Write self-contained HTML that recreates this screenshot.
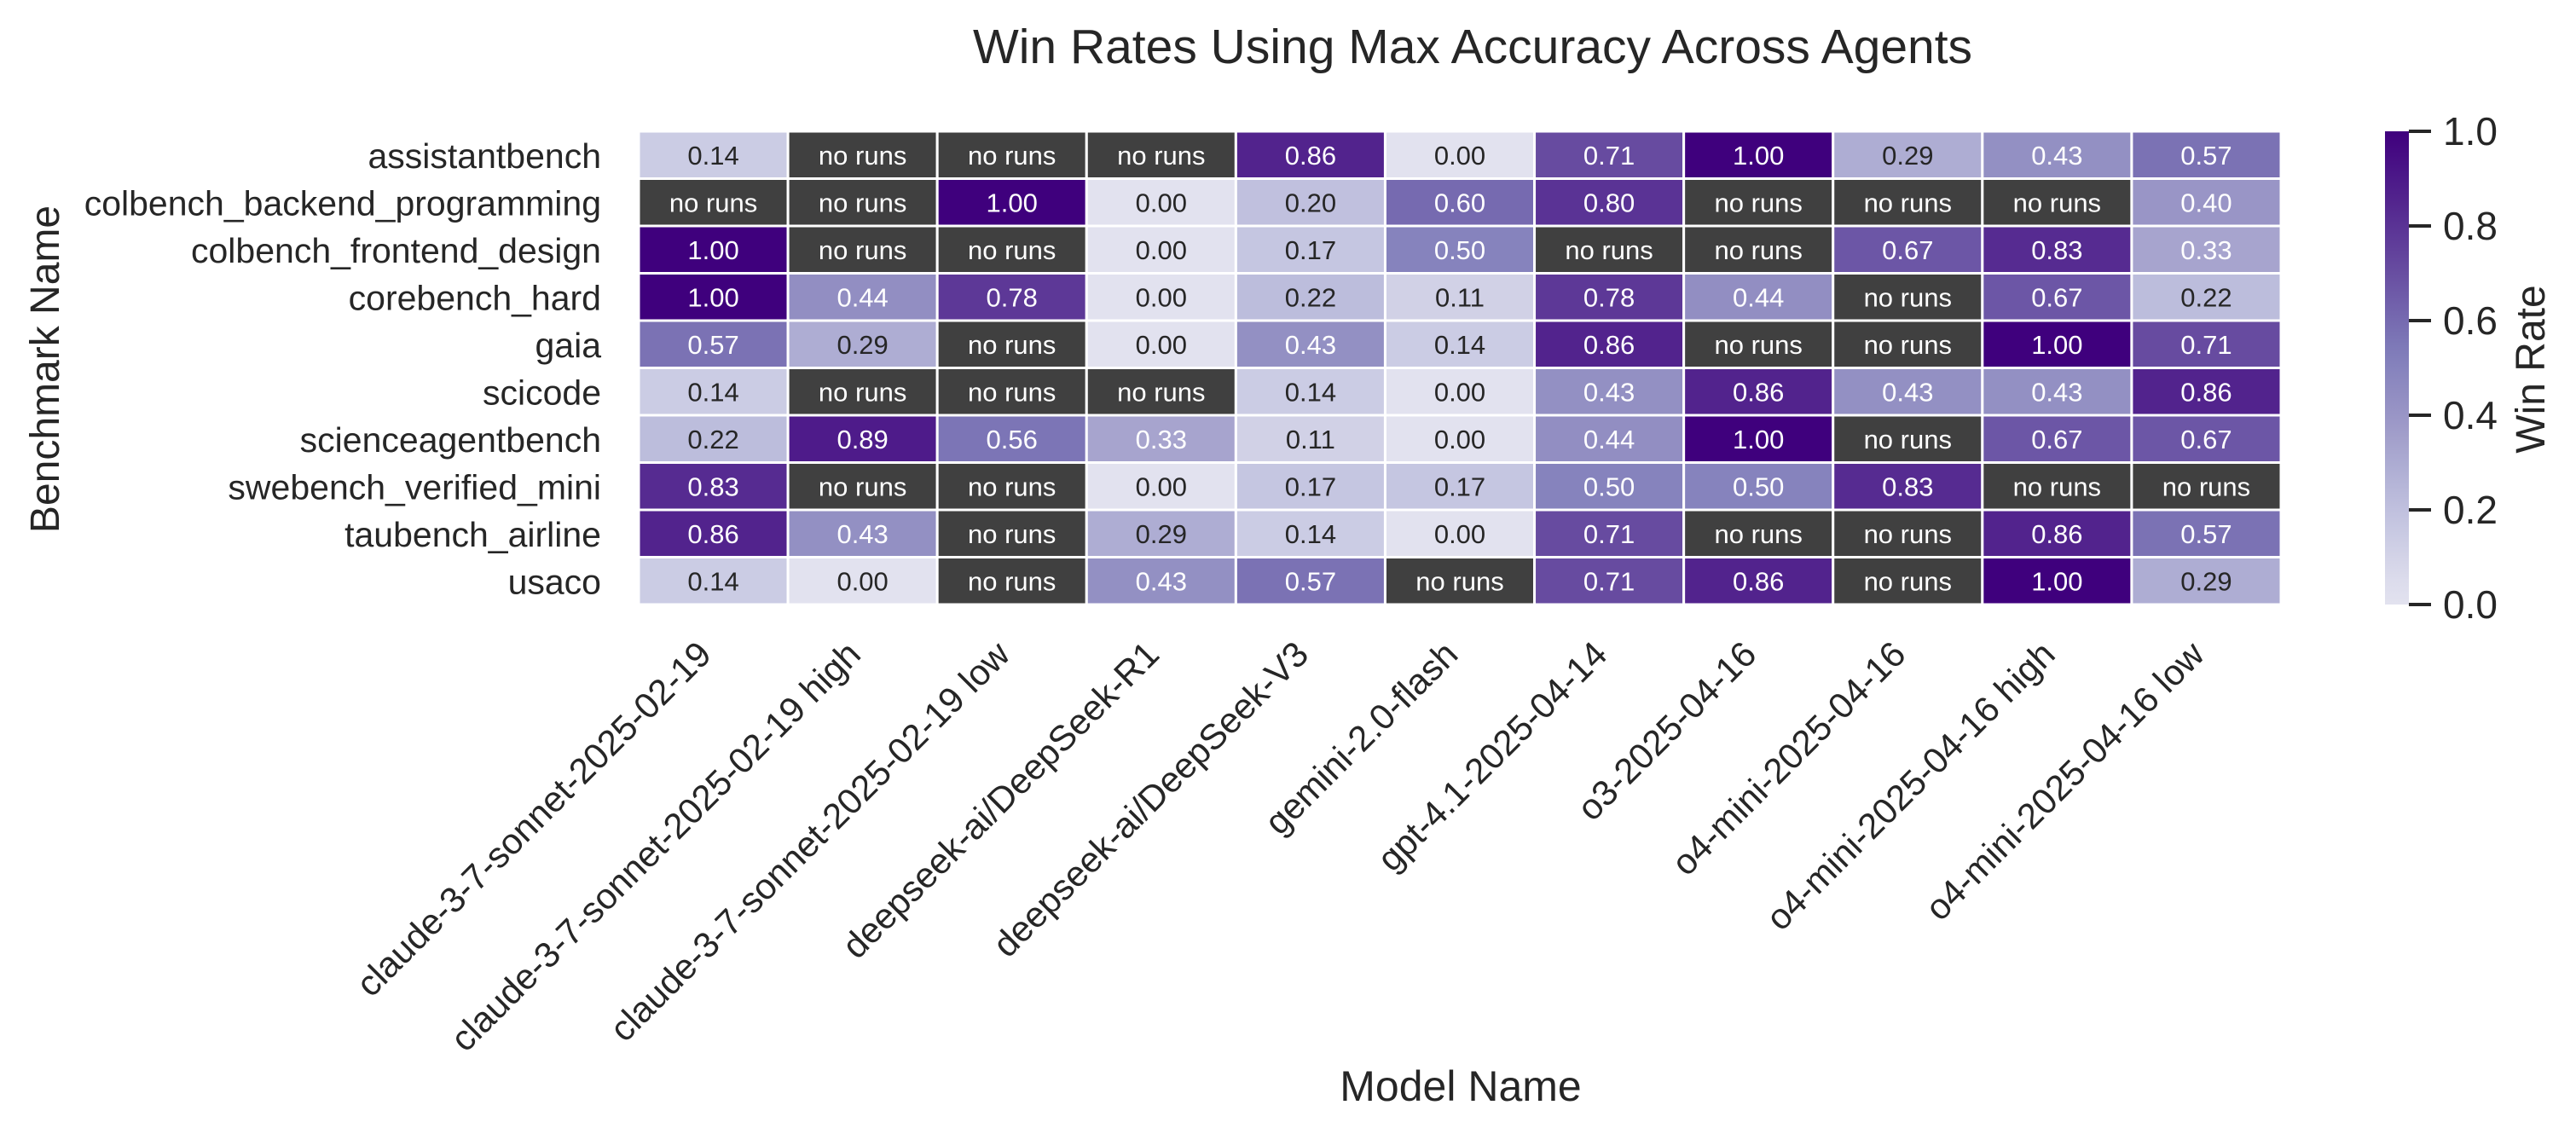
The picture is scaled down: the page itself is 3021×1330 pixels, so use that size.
<!DOCTYPE html>
<html><head><meta charset="utf-8"><style>
html,body{margin:0;padding:0;background:#fff;}
svg{display:block;font-family:"Liberation Sans",Arial,sans-serif;}
</style></head><body>
<svg id="chart" width="3021" height="1330" viewBox="0 0 3021 1330" xmlns="http://www.w3.org/2000/svg">
<defs><linearGradient id="cbgrad" x1="0" y1="1" x2="0" y2="0"></linearGradient></defs>
<text x="1727" y="74" font-size="57" text-anchor="middle" fill="#262626">Win Rates Using Max Accuracy Across Agents</text>
<text transform="translate(69,433) rotate(-90)" font-size="48" text-anchor="middle" fill="#262626">Benchmark Name</text>
<text x="1713" y="1291" font-size="50" text-anchor="middle" fill="#262626">Model Name</text>
<text transform="translate(2984,433) rotate(-90)" font-size="48" text-anchor="middle" fill="#262626">Win Rate</text>
<g id="cells"></g><g id="ylabels"></g><g id="xlabels"></g><g id="cbar"></g>
</svg>
<script>
const rows = ["assistantbench","colbench_backend_programming","colbench_frontend_design","corebench_hard","gaia","scicode","scienceagentbench","swebench_verified_mini","taubench_airline","usaco"];
const cols = ["claude-3-7-sonnet-2025-02-19","claude-3-7-sonnet-2025-02-19 high","claude-3-7-sonnet-2025-02-19 low","deepseek-ai/DeepSeek-R1","deepseek-ai/DeepSeek-V3","gemini-2.0-flash","gpt-4.1-2025-04-14","o3-2025-04-16","o4-mini-2025-04-16","o4-mini-2025-04-16 high","o4-mini-2025-04-16 low"];
const N = null;
const values = [
[0.14,N,N,N,0.86,0.00,0.71,1.00,0.29,0.43,0.57],
[N,N,1.00,0.00,0.20,0.60,0.80,N,N,N,0.40],
[1.00,N,N,0.00,0.17,0.50,N,N,0.67,0.83,0.33],
[1.00,0.44,0.78,0.00,0.22,0.11,0.78,0.44,N,0.67,0.22],
[0.57,0.29,N,0.00,0.43,0.14,0.86,N,N,1.00,0.71],
[0.14,N,N,N,0.14,0.00,0.43,0.86,0.43,0.43,0.86],
[0.22,0.89,0.56,0.33,0.11,0.00,0.44,1.00,N,0.67,0.67],
[0.83,N,N,0.00,0.17,0.17,0.50,0.50,0.83,N,N],
[0.86,0.43,N,0.29,0.14,0.00,0.71,N,N,0.86,0.57],
[0.14,0.00,N,0.43,0.57,N,0.71,0.86,N,1.00,0.29]
];
const cbTicks = [0.0,0.2,0.4,0.6,0.8,1.0];

const NS="http://www.w3.org/2000/svg";
const X0=749,X1=2675,Y0=154,Y1=709;
const cw=(X1-X0)/cols.length, rh=(Y1-Y0)/rows.length;
const xPos=i=>X0+i*cw, yPos=j=>Y0+j*rh;
const stops=["#fcfbfd","#efedf5","#dadaeb","#bcbddc","#9e9ac8","#807dba","#6a51a3","#54278f","#3f007d"];
function hex(h){return [1,3,5].map(k=>parseInt(h.substr(k,2),16));}
function cmap(v){let t=0.2+0.8*Math.max(0,Math.min(1,v));let p=t*8,i=Math.min(7,Math.floor(p)),f=p-i;
 const a=hex(stops[i]),b=hex(stops[i+1]);return "rgb("+a.map((c,k)=>Math.round(c+(b[k]-c)*f)).join(",")+")";}
function el(tag,attrs,parent,txt){const e=document.createElementNS(NS,tag);for(const k in attrs)e.setAttribute(k,attrs[k]);if(txt!==undefined)e.textContent=txt;parent.appendChild(e);return e;}
const gc=document.getElementById("cells");
rows.forEach((r,j)=>{cols.forEach((c,i)=>{
 const v=values[j][i];
 const rect=el("rect",{x:xPos(i),y:yPos(j),width:cw,height:rh,fill:v===null?"#404040":cmap(v),stroke:"#fff","stroke-width":3},gc);
 
 
 const t=el("text",{x:xPos(i)+cw/2,y:yPos(j)+rh/2+11,"font-size":31,"text-anchor":"middle",fill:(v===null||v>0.3)?"#fff":"#262626"},gc,v===null?"no runs":v.toFixed(2));
 
 
});});
const gy=document.getElementById("ylabels");
rows.forEach((r,j)=>{const t=el("text",{x:X0-44,y:yPos(j)+rh/2+15,"font-size":41,"text-anchor":"end",fill:"#262626"},gy,r);
 
 });
const gx=document.getElementById("xlabels");
cols.forEach((c,i)=>{const ax=xPos(i)+cw/2, ay=770;
 const t=el("text",{transform:"translate("+ax+","+ay+") rotate(-45)","font-size":42,"text-anchor":"end",fill:"#262626"},gx,c);
 
 });
const grad=document.getElementById("cbgrad");
for(let k=0;k<=20;k++){el("stop",{offset:(k/20),"stop-color":cmap(k/20)},grad);}
const gcb=document.getElementById("cbar");
const CX0=2797,CX1=2825;
const cbY=v=>Y1-(Y1-Y0)*v;
const bar=el("rect",{x:CX0,y:Y0,width:CX1-CX0,height:Y1-Y0,fill:"url(#cbgrad)"},gcb);


cbTicks.forEach(v=>{const ln=el("line",{x1:CX1,x2:CX1+26,y1:cbY(v),y2:cbY(v),stroke:"#262626","stroke-width":4},gcb);
 
 
 const t=el("text",{x:CX1+40,y:cbY(v)+16,"font-size":46,fill:"#262626"},gcb,v.toFixed(1));
 
 });
</script>
</body></html>
